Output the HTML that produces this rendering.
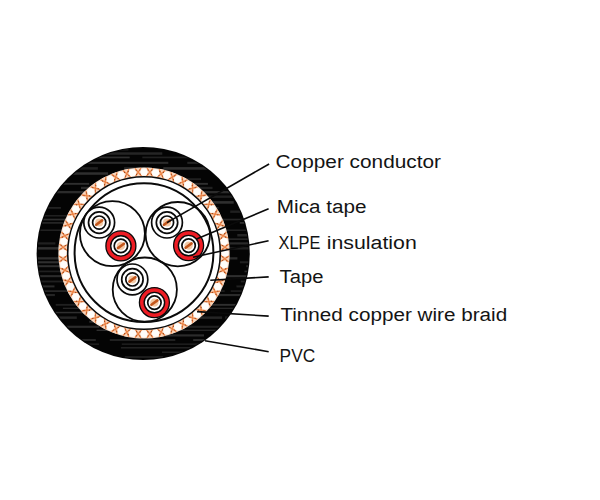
<!DOCTYPE html><html><head><meta charset="utf-8"><style>html,body{margin:0;padding:0;background:#fff;overflow:hidden}body{width:600px;height:500px;font-family:"Liberation Sans",sans-serif}svg{display:block}</style></head><body><svg width="600" height="500" viewBox="0 0 600 500">
<rect width="600" height="500" fill="#fff"/>
<circle cx="143.2" cy="253.5" r="106.6" fill="#050505"/>
<clipPath id="jk"><circle cx="143.2" cy="253.5" r="105.5"/></clipPath>
<g clip-path="url(#jk)" opacity="0.9"><rect x="20.0" y="149.0" width="60.4" height="1.5" fill="#242424"/><rect x="99.1" y="149.0" width="29.3" height="1.5" fill="#242424"/><rect x="190.5" y="149.0" width="79.4" height="1.5" fill="#303030"/><rect x="20.0" y="152.3" width="50.3" height="2.5" fill="#2a2a2a"/><rect x="75.1" y="152.3" width="87.2" height="2.5" fill="#2a2a2a"/><rect x="187.1" y="152.3" width="42.5" height="2.5" fill="#242424"/><rect x="251.0" y="152.3" width="84.9" height="2.5" fill="#242424"/><rect x="20.0" y="156.6" width="27.3" height="1.7" fill="#353535"/><rect x="76.3" y="156.6" width="53.4" height="1.7" fill="#353535"/><rect x="142.3" y="156.6" width="79.2" height="1.7" fill="#242424"/><rect x="239.0" y="156.6" width="83.8" height="1.7" fill="#2a2a2a"/><rect x="84.5" y="161.8" width="83.8" height="2.1" fill="#303030"/><rect x="187.3" y="161.8" width="89.2" height="2.1" fill="#2a2a2a"/><rect x="63.1" y="167.1" width="34.8" height="2.6" fill="#242424"/><rect x="124.1" y="167.1" width="27.9" height="2.6" fill="#2a2a2a"/><rect x="163.3" y="167.1" width="63.1" height="2.6" fill="#353535"/><rect x="241.5" y="167.1" width="89.9" height="2.6" fill="#2a2a2a"/><rect x="20.0" y="172.3" width="88.1" height="2.5" fill="#353535"/><rect x="248.6" y="172.3" width="54.9" height="2.5" fill="#2a2a2a"/><rect x="140.4" y="178.2" width="60.6" height="1.9" fill="#242424"/><rect x="230.6" y="178.2" width="45.5" height="1.9" fill="#303030"/><rect x="20.0" y="182.9" width="69.2" height="1.9" fill="#353535"/><rect x="111.3" y="182.9" width="26.4" height="1.9" fill="#2a2a2a"/><rect x="166.6" y="182.9" width="41.3" height="1.9" fill="#353535"/><rect x="81.0" y="186.8" width="69.4" height="2.3" fill="#303030"/><rect x="170.0" y="186.8" width="42.5" height="2.3" fill="#242424"/><rect x="232.0" y="186.8" width="31.3" height="2.3" fill="#353535"/><rect x="20.0" y="191.0" width="87.4" height="2.3" fill="#303030"/><rect x="134.0" y="191.0" width="54.3" height="2.3" fill="#2a2a2a"/><rect x="189.3" y="191.0" width="87.2" height="2.3" fill="#303030"/><rect x="20.0" y="195.5" width="30.6" height="2.4" fill="#303030"/><rect x="135.8" y="195.5" width="66.2" height="2.4" fill="#242424"/><rect x="203.1" y="195.5" width="51.9" height="2.4" fill="#242424"/><rect x="165.6" y="201.1" width="68.1" height="2.6" fill="#353535"/><rect x="20.0" y="207.2" width="40.9" height="1.4" fill="#303030"/><rect x="87.8" y="207.2" width="83.5" height="1.4" fill="#2a2a2a"/><rect x="185.7" y="207.2" width="32.9" height="1.4" fill="#303030"/><rect x="238.4" y="207.2" width="59.1" height="1.4" fill="#2a2a2a"/><rect x="86.6" y="210.5" width="37.8" height="2.4" fill="#2a2a2a"/><rect x="230.2" y="210.5" width="78.5" height="2.4" fill="#242424"/><rect x="20.0" y="215.0" width="59.3" height="1.6" fill="#242424"/><rect x="190.5" y="215.0" width="28.0" height="1.6" fill="#242424"/><rect x="247.7" y="215.0" width="80.5" height="1.6" fill="#242424"/><rect x="20.0" y="218.7" width="67.0" height="1.7" fill="#353535"/><rect x="95.0" y="218.7" width="89.2" height="1.7" fill="#303030"/><rect x="200.9" y="218.7" width="71.5" height="1.7" fill="#2a2a2a"/><rect x="20.0" y="222.0" width="67.3" height="1.8" fill="#2a2a2a"/><rect x="106.0" y="222.0" width="53.1" height="1.8" fill="#242424"/><rect x="239.8" y="222.0" width="26.2" height="1.8" fill="#353535"/><rect x="173.8" y="225.5" width="42.0" height="1.8" fill="#2a2a2a"/><rect x="20.0" y="229.5" width="45.7" height="1.4" fill="#2a2a2a"/><rect x="79.9" y="229.5" width="40.3" height="1.4" fill="#2a2a2a"/><rect x="137.2" y="229.5" width="67.8" height="1.4" fill="#2a2a2a"/><rect x="215.3" y="229.5" width="80.4" height="1.4" fill="#2a2a2a"/><rect x="83.7" y="234.0" width="74.9" height="2.5" fill="#303030"/><rect x="237.3" y="234.0" width="46.1" height="2.5" fill="#2a2a2a"/><rect x="96.9" y="238.4" width="48.9" height="1.5" fill="#353535"/><rect x="162.4" y="238.4" width="87.8" height="1.5" fill="#303030"/><rect x="20.0" y="242.3" width="35.4" height="2.2" fill="#242424"/><rect x="116.1" y="242.3" width="57.4" height="2.2" fill="#242424"/><rect x="191.0" y="242.3" width="80.8" height="2.2" fill="#303030"/><rect x="20.0" y="247.1" width="80.3" height="2.5" fill="#353535"/><rect x="120.5" y="247.1" width="80.6" height="2.5" fill="#353535"/><rect x="227.8" y="247.1" width="45.0" height="2.5" fill="#242424"/><rect x="20.0" y="257.2" width="82.3" height="2.3" fill="#303030"/><rect x="198.3" y="257.2" width="39.1" height="2.3" fill="#303030"/><rect x="20.0" y="261.2" width="68.9" height="2.1" fill="#353535"/><rect x="94.0" y="261.2" width="27.9" height="2.1" fill="#2a2a2a"/><rect x="143.8" y="261.2" width="30.6" height="2.1" fill="#353535"/><rect x="239.9" y="261.2" width="26.9" height="2.1" fill="#242424"/><rect x="20.0" y="265.2" width="87.1" height="2.0" fill="#353535"/><rect x="110.7" y="265.2" width="42.9" height="2.0" fill="#2a2a2a"/><rect x="166.7" y="265.2" width="59.3" height="2.0" fill="#353535"/><rect x="246.3" y="265.2" width="48.9" height="2.0" fill="#353535"/><rect x="20.0" y="270.6" width="61.8" height="1.7" fill="#242424"/><rect x="97.1" y="270.6" width="28.9" height="1.7" fill="#303030"/><rect x="145.3" y="270.6" width="72.5" height="1.7" fill="#353535"/><rect x="244.5" y="270.6" width="67.6" height="1.7" fill="#303030"/><rect x="20.0" y="275.1" width="52.3" height="2.1" fill="#303030"/><rect x="86.0" y="275.1" width="45.3" height="2.1" fill="#2a2a2a"/><rect x="134.6" y="275.1" width="36.8" height="2.1" fill="#242424"/><rect x="182.1" y="275.1" width="42.3" height="2.1" fill="#303030"/><rect x="225.7" y="275.1" width="57.8" height="2.1" fill="#353535"/><rect x="20.0" y="280.6" width="77.6" height="1.8" fill="#242424"/><rect x="123.0" y="280.6" width="32.3" height="1.8" fill="#2a2a2a"/><rect x="240.8" y="280.6" width="70.4" height="1.8" fill="#242424"/><rect x="20.0" y="285.4" width="34.5" height="2.0" fill="#303030"/><rect x="70.9" y="285.4" width="36.1" height="2.0" fill="#353535"/><rect x="236.4" y="285.4" width="83.9" height="2.0" fill="#242424"/><rect x="20.0" y="290.3" width="80.9" height="1.6" fill="#303030"/><rect x="167.7" y="290.3" width="57.0" height="1.6" fill="#242424"/><rect x="230.7" y="290.3" width="75.8" height="1.6" fill="#242424"/><rect x="20.0" y="294.0" width="34.9" height="2.1" fill="#2a2a2a"/><rect x="73.6" y="294.0" width="28.3" height="2.1" fill="#303030"/><rect x="117.1" y="294.0" width="57.4" height="2.1" fill="#353535"/><rect x="184.2" y="294.0" width="81.6" height="2.1" fill="#303030"/><rect x="20.0" y="299.3" width="27.2" height="2.3" fill="#353535"/><rect x="77.1" y="299.3" width="38.3" height="2.3" fill="#303030"/><rect x="128.6" y="299.3" width="74.2" height="2.3" fill="#2a2a2a"/><rect x="55.7" y="303.9" width="56.8" height="1.9" fill="#242424"/><rect x="135.2" y="303.9" width="51.1" height="1.9" fill="#2a2a2a"/><rect x="207.9" y="303.9" width="48.9" height="1.9" fill="#353535"/><rect x="62.9" y="307.7" width="54.9" height="1.2" fill="#303030"/><rect x="118.5" y="307.7" width="63.0" height="1.2" fill="#2a2a2a"/><rect x="185.6" y="307.7" width="64.6" height="1.2" fill="#303030"/><rect x="252.0" y="307.7" width="26.5" height="1.2" fill="#242424"/><rect x="20.0" y="311.8" width="27.5" height="1.5" fill="#303030"/><rect x="54.8" y="311.8" width="50.3" height="1.5" fill="#353535"/><rect x="123.8" y="311.8" width="47.5" height="1.5" fill="#2a2a2a"/><rect x="20.0" y="316.4" width="56.8" height="2.5" fill="#2a2a2a"/><rect x="101.2" y="316.4" width="65.9" height="2.5" fill="#2a2a2a"/><rect x="168.8" y="316.4" width="53.3" height="2.5" fill="#2a2a2a"/><rect x="225.2" y="316.4" width="69.3" height="2.5" fill="#2a2a2a"/><rect x="89.3" y="320.8" width="47.1" height="1.9" fill="#353535"/><rect x="164.6" y="320.8" width="27.2" height="1.9" fill="#242424"/><rect x="241.9" y="320.8" width="50.3" height="1.9" fill="#242424"/><rect x="20.0" y="325.7" width="79.3" height="2.2" fill="#303030"/><rect x="110.2" y="325.7" width="52.0" height="2.2" fill="#242424"/><rect x="172.5" y="325.7" width="78.4" height="2.2" fill="#242424"/><rect x="96.6" y="329.6" width="70.0" height="1.4" fill="#353535"/><rect x="173.7" y="329.6" width="79.8" height="1.4" fill="#2a2a2a"/><rect x="20.0" y="334.3" width="46.7" height="2.2" fill="#2a2a2a"/><rect x="158.8" y="334.3" width="45.2" height="2.2" fill="#303030"/><rect x="211.3" y="334.3" width="28.2" height="2.2" fill="#303030"/><rect x="257.0" y="334.3" width="25.8" height="2.2" fill="#303030"/><rect x="20.0" y="339.1" width="75.8" height="1.8" fill="#303030"/><rect x="109.8" y="339.1" width="65.5" height="1.8" fill="#2a2a2a"/><rect x="193.2" y="339.1" width="80.8" height="1.8" fill="#353535"/><rect x="20.0" y="343.4" width="78.9" height="1.5" fill="#242424"/><rect x="121.8" y="343.4" width="81.7" height="1.5" fill="#242424"/><rect x="20.0" y="347.1" width="25.5" height="1.4" fill="#2a2a2a"/><rect x="120.9" y="347.1" width="69.6" height="1.4" fill="#2a2a2a"/><rect x="208.7" y="347.1" width="38.9" height="1.4" fill="#2a2a2a"/><rect x="257.7" y="347.1" width="53.0" height="1.4" fill="#303030"/><rect x="162.0" y="351.5" width="48.9" height="1.5" fill="#242424"/><rect x="225.4" y="351.5" width="75.3" height="1.5" fill="#2a2a2a"/><rect x="60.1" y="356.3" width="58.8" height="1.5" fill="#2a2a2a"/><rect x="124.7" y="356.3" width="38.5" height="1.5" fill="#2a2a2a"/><rect x="255.3" y="356.3" width="31.7" height="1.5" fill="#242424"/><rect x="20.0" y="359.7" width="77.6" height="1.9" fill="#242424"/><rect x="127.0" y="359.7" width="81.9" height="1.9" fill="#303030"/><rect x="221.9" y="359.7" width="86.1" height="1.9" fill="#303030"/></g>
<circle cx="144.0" cy="253.0" r="85.6" fill="#fbe6d6"/>
<g transform="translate(149.78 172.21) rotate(-85.9)"><rect x="-4.4" y="-2.6" width="8.8" height="5.2" fill="#f8d5bc"/><path d="M-4 -3L4 3M-4 3L4 -3" stroke="#ee8445" stroke-width="1.3" fill="none"/><path d="M-2 -1.9h0M2 -1.9h0M-2 1.9h0M2 1.9h0" stroke="#9a4a22" stroke-width="1.3" stroke-linecap="round"/></g><g transform="translate(161.22 173.85) rotate(-77.7)"><rect x="-4.4" y="-2.6" width="8.8" height="5.2" fill="#f8d5bc"/><path d="M-4 -3L4 3M-4 3L4 -3" stroke="#ee8445" stroke-width="1.3" fill="none"/><path d="M-2 -1.9h0M2 -1.9h0M-2 1.9h0M2 1.9h0" stroke="#9a4a22" stroke-width="1.3" stroke-linecap="round"/></g><g transform="translate(172.31 177.11) rotate(-69.5)"><rect x="-4.4" y="-2.6" width="8.8" height="5.2" fill="#f8d5bc"/><path d="M-4 -3L4 3M-4 3L4 -3" stroke="#ee8445" stroke-width="1.3" fill="none"/><path d="M-2 -1.9h0M2 -1.9h0M-2 1.9h0M2 1.9h0" stroke="#9a4a22" stroke-width="1.3" stroke-linecap="round"/></g><g transform="translate(182.82 181.91) rotate(-61.4)"><rect x="-4.4" y="-2.6" width="8.8" height="5.2" fill="#f8d5bc"/><path d="M-4 -3L4 3M-4 3L4 -3" stroke="#ee8445" stroke-width="1.3" fill="none"/><path d="M-2 -1.9h0M2 -1.9h0M-2 1.9h0M2 1.9h0" stroke="#9a4a22" stroke-width="1.3" stroke-linecap="round"/></g><g transform="translate(192.54 188.16) rotate(-53.2)"><rect x="-4.4" y="-2.6" width="8.8" height="5.2" fill="#f8d5bc"/><path d="M-4 -3L4 3M-4 3L4 -3" stroke="#ee8445" stroke-width="1.3" fill="none"/><path d="M-2 -1.9h0M2 -1.9h0M-2 1.9h0M2 1.9h0" stroke="#9a4a22" stroke-width="1.3" stroke-linecap="round"/></g><g transform="translate(201.28 195.72) rotate(-45.0)"><rect x="-4.4" y="-2.6" width="8.8" height="5.2" fill="#f8d5bc"/><path d="M-4 -3L4 3M-4 3L4 -3" stroke="#ee8445" stroke-width="1.3" fill="none"/><path d="M-2 -1.9h0M2 -1.9h0M-2 1.9h0M2 1.9h0" stroke="#9a4a22" stroke-width="1.3" stroke-linecap="round"/></g><g transform="translate(208.84 204.46) rotate(-36.8)"><rect x="-4.4" y="-2.6" width="8.8" height="5.2" fill="#f8d5bc"/><path d="M-4 -3L4 3M-4 3L4 -3" stroke="#ee8445" stroke-width="1.3" fill="none"/><path d="M-2 -1.9h0M2 -1.9h0M-2 1.9h0M2 1.9h0" stroke="#9a4a22" stroke-width="1.3" stroke-linecap="round"/></g><g transform="translate(215.09 214.18) rotate(-28.6)"><rect x="-4.4" y="-2.6" width="8.8" height="5.2" fill="#f8d5bc"/><path d="M-4 -3L4 3M-4 3L4 -3" stroke="#ee8445" stroke-width="1.3" fill="none"/><path d="M-2 -1.9h0M2 -1.9h0M-2 1.9h0M2 1.9h0" stroke="#9a4a22" stroke-width="1.3" stroke-linecap="round"/></g><g transform="translate(219.89 224.69) rotate(-20.5)"><rect x="-4.4" y="-2.6" width="8.8" height="5.2" fill="#f8d5bc"/><path d="M-4 -3L4 3M-4 3L4 -3" stroke="#ee8445" stroke-width="1.3" fill="none"/><path d="M-2 -1.9h0M2 -1.9h0M-2 1.9h0M2 1.9h0" stroke="#9a4a22" stroke-width="1.3" stroke-linecap="round"/></g><g transform="translate(223.15 235.78) rotate(-12.3)"><rect x="-4.4" y="-2.6" width="8.8" height="5.2" fill="#f8d5bc"/><path d="M-4 -3L4 3M-4 3L4 -3" stroke="#ee8445" stroke-width="1.3" fill="none"/><path d="M-2 -1.9h0M2 -1.9h0M-2 1.9h0M2 1.9h0" stroke="#9a4a22" stroke-width="1.3" stroke-linecap="round"/></g><g transform="translate(224.79 247.22) rotate(-4.1)"><rect x="-4.4" y="-2.6" width="8.8" height="5.2" fill="#f8d5bc"/><path d="M-4 -3L4 3M-4 3L4 -3" stroke="#ee8445" stroke-width="1.3" fill="none"/><path d="M-2 -1.9h0M2 -1.9h0M-2 1.9h0M2 1.9h0" stroke="#9a4a22" stroke-width="1.3" stroke-linecap="round"/></g><g transform="translate(224.79 258.78) rotate(4.1)"><rect x="-4.4" y="-2.6" width="8.8" height="5.2" fill="#f8d5bc"/><path d="M-4 -3L4 3M-4 3L4 -3" stroke="#ee8445" stroke-width="1.3" fill="none"/><path d="M-2 -1.9h0M2 -1.9h0M-2 1.9h0M2 1.9h0" stroke="#9a4a22" stroke-width="1.3" stroke-linecap="round"/></g><g transform="translate(223.15 270.22) rotate(12.3)"><rect x="-4.4" y="-2.6" width="8.8" height="5.2" fill="#f8d5bc"/><path d="M-4 -3L4 3M-4 3L4 -3" stroke="#ee8445" stroke-width="1.3" fill="none"/><path d="M-2 -1.9h0M2 -1.9h0M-2 1.9h0M2 1.9h0" stroke="#9a4a22" stroke-width="1.3" stroke-linecap="round"/></g><g transform="translate(219.89 281.31) rotate(20.5)"><rect x="-4.4" y="-2.6" width="8.8" height="5.2" fill="#f8d5bc"/><path d="M-4 -3L4 3M-4 3L4 -3" stroke="#ee8445" stroke-width="1.3" fill="none"/><path d="M-2 -1.9h0M2 -1.9h0M-2 1.9h0M2 1.9h0" stroke="#9a4a22" stroke-width="1.3" stroke-linecap="round"/></g><g transform="translate(215.09 291.82) rotate(28.6)"><rect x="-4.4" y="-2.6" width="8.8" height="5.2" fill="#f8d5bc"/><path d="M-4 -3L4 3M-4 3L4 -3" stroke="#ee8445" stroke-width="1.3" fill="none"/><path d="M-2 -1.9h0M2 -1.9h0M-2 1.9h0M2 1.9h0" stroke="#9a4a22" stroke-width="1.3" stroke-linecap="round"/></g><g transform="translate(208.84 301.54) rotate(36.8)"><rect x="-4.4" y="-2.6" width="8.8" height="5.2" fill="#f8d5bc"/><path d="M-4 -3L4 3M-4 3L4 -3" stroke="#ee8445" stroke-width="1.3" fill="none"/><path d="M-2 -1.9h0M2 -1.9h0M-2 1.9h0M2 1.9h0" stroke="#9a4a22" stroke-width="1.3" stroke-linecap="round"/></g><g transform="translate(201.28 310.28) rotate(45.0)"><rect x="-4.4" y="-2.6" width="8.8" height="5.2" fill="#f8d5bc"/><path d="M-4 -3L4 3M-4 3L4 -3" stroke="#ee8445" stroke-width="1.3" fill="none"/><path d="M-2 -1.9h0M2 -1.9h0M-2 1.9h0M2 1.9h0" stroke="#9a4a22" stroke-width="1.3" stroke-linecap="round"/></g><g transform="translate(192.54 317.84) rotate(53.2)"><rect x="-4.4" y="-2.6" width="8.8" height="5.2" fill="#f8d5bc"/><path d="M-4 -3L4 3M-4 3L4 -3" stroke="#ee8445" stroke-width="1.3" fill="none"/><path d="M-2 -1.9h0M2 -1.9h0M-2 1.9h0M2 1.9h0" stroke="#9a4a22" stroke-width="1.3" stroke-linecap="round"/></g><g transform="translate(182.82 324.09) rotate(61.4)"><rect x="-4.4" y="-2.6" width="8.8" height="5.2" fill="#f8d5bc"/><path d="M-4 -3L4 3M-4 3L4 -3" stroke="#ee8445" stroke-width="1.3" fill="none"/><path d="M-2 -1.9h0M2 -1.9h0M-2 1.9h0M2 1.9h0" stroke="#9a4a22" stroke-width="1.3" stroke-linecap="round"/></g><g transform="translate(172.31 328.89) rotate(69.5)"><rect x="-4.4" y="-2.6" width="8.8" height="5.2" fill="#f8d5bc"/><path d="M-4 -3L4 3M-4 3L4 -3" stroke="#ee8445" stroke-width="1.3" fill="none"/><path d="M-2 -1.9h0M2 -1.9h0M-2 1.9h0M2 1.9h0" stroke="#9a4a22" stroke-width="1.3" stroke-linecap="round"/></g><g transform="translate(161.22 332.15) rotate(77.7)"><rect x="-4.4" y="-2.6" width="8.8" height="5.2" fill="#f8d5bc"/><path d="M-4 -3L4 3M-4 3L4 -3" stroke="#ee8445" stroke-width="1.3" fill="none"/><path d="M-2 -1.9h0M2 -1.9h0M-2 1.9h0M2 1.9h0" stroke="#9a4a22" stroke-width="1.3" stroke-linecap="round"/></g><g transform="translate(149.78 333.79) rotate(85.9)"><rect x="-4.4" y="-2.6" width="8.8" height="5.2" fill="#f8d5bc"/><path d="M-4 -3L4 3M-4 3L4 -3" stroke="#ee8445" stroke-width="1.3" fill="none"/><path d="M-2 -1.9h0M2 -1.9h0M-2 1.9h0M2 1.9h0" stroke="#9a4a22" stroke-width="1.3" stroke-linecap="round"/></g><g transform="translate(138.22 333.79) rotate(94.1)"><rect x="-4.4" y="-2.6" width="8.8" height="5.2" fill="#f8d5bc"/><path d="M-4 -3L4 3M-4 3L4 -3" stroke="#ee8445" stroke-width="1.3" fill="none"/><path d="M-2 -1.9h0M2 -1.9h0M-2 1.9h0M2 1.9h0" stroke="#9a4a22" stroke-width="1.3" stroke-linecap="round"/></g><g transform="translate(126.78 332.15) rotate(102.3)"><rect x="-4.4" y="-2.6" width="8.8" height="5.2" fill="#f8d5bc"/><path d="M-4 -3L4 3M-4 3L4 -3" stroke="#ee8445" stroke-width="1.3" fill="none"/><path d="M-2 -1.9h0M2 -1.9h0M-2 1.9h0M2 1.9h0" stroke="#9a4a22" stroke-width="1.3" stroke-linecap="round"/></g><g transform="translate(115.69 328.89) rotate(110.5)"><rect x="-4.4" y="-2.6" width="8.8" height="5.2" fill="#f8d5bc"/><path d="M-4 -3L4 3M-4 3L4 -3" stroke="#ee8445" stroke-width="1.3" fill="none"/><path d="M-2 -1.9h0M2 -1.9h0M-2 1.9h0M2 1.9h0" stroke="#9a4a22" stroke-width="1.3" stroke-linecap="round"/></g><g transform="translate(105.18 324.09) rotate(118.6)"><rect x="-4.4" y="-2.6" width="8.8" height="5.2" fill="#f8d5bc"/><path d="M-4 -3L4 3M-4 3L4 -3" stroke="#ee8445" stroke-width="1.3" fill="none"/><path d="M-2 -1.9h0M2 -1.9h0M-2 1.9h0M2 1.9h0" stroke="#9a4a22" stroke-width="1.3" stroke-linecap="round"/></g><g transform="translate(95.46 317.84) rotate(126.8)"><rect x="-4.4" y="-2.6" width="8.8" height="5.2" fill="#f8d5bc"/><path d="M-4 -3L4 3M-4 3L4 -3" stroke="#ee8445" stroke-width="1.3" fill="none"/><path d="M-2 -1.9h0M2 -1.9h0M-2 1.9h0M2 1.9h0" stroke="#9a4a22" stroke-width="1.3" stroke-linecap="round"/></g><g transform="translate(86.72 310.28) rotate(135.0)"><rect x="-4.4" y="-2.6" width="8.8" height="5.2" fill="#f8d5bc"/><path d="M-4 -3L4 3M-4 3L4 -3" stroke="#ee8445" stroke-width="1.3" fill="none"/><path d="M-2 -1.9h0M2 -1.9h0M-2 1.9h0M2 1.9h0" stroke="#9a4a22" stroke-width="1.3" stroke-linecap="round"/></g><g transform="translate(79.16 301.54) rotate(143.2)"><rect x="-4.4" y="-2.6" width="8.8" height="5.2" fill="#f8d5bc"/><path d="M-4 -3L4 3M-4 3L4 -3" stroke="#ee8445" stroke-width="1.3" fill="none"/><path d="M-2 -1.9h0M2 -1.9h0M-2 1.9h0M2 1.9h0" stroke="#9a4a22" stroke-width="1.3" stroke-linecap="round"/></g><g transform="translate(72.91 291.82) rotate(151.4)"><rect x="-4.4" y="-2.6" width="8.8" height="5.2" fill="#f8d5bc"/><path d="M-4 -3L4 3M-4 3L4 -3" stroke="#ee8445" stroke-width="1.3" fill="none"/><path d="M-2 -1.9h0M2 -1.9h0M-2 1.9h0M2 1.9h0" stroke="#9a4a22" stroke-width="1.3" stroke-linecap="round"/></g><g transform="translate(68.11 281.31) rotate(159.5)"><rect x="-4.4" y="-2.6" width="8.8" height="5.2" fill="#f8d5bc"/><path d="M-4 -3L4 3M-4 3L4 -3" stroke="#ee8445" stroke-width="1.3" fill="none"/><path d="M-2 -1.9h0M2 -1.9h0M-2 1.9h0M2 1.9h0" stroke="#9a4a22" stroke-width="1.3" stroke-linecap="round"/></g><g transform="translate(64.85 270.22) rotate(167.7)"><rect x="-4.4" y="-2.6" width="8.8" height="5.2" fill="#f8d5bc"/><path d="M-4 -3L4 3M-4 3L4 -3" stroke="#ee8445" stroke-width="1.3" fill="none"/><path d="M-2 -1.9h0M2 -1.9h0M-2 1.9h0M2 1.9h0" stroke="#9a4a22" stroke-width="1.3" stroke-linecap="round"/></g><g transform="translate(63.21 258.78) rotate(175.9)"><rect x="-4.4" y="-2.6" width="8.8" height="5.2" fill="#f8d5bc"/><path d="M-4 -3L4 3M-4 3L4 -3" stroke="#ee8445" stroke-width="1.3" fill="none"/><path d="M-2 -1.9h0M2 -1.9h0M-2 1.9h0M2 1.9h0" stroke="#9a4a22" stroke-width="1.3" stroke-linecap="round"/></g><g transform="translate(63.21 247.22) rotate(184.1)"><rect x="-4.4" y="-2.6" width="8.8" height="5.2" fill="#f8d5bc"/><path d="M-4 -3L4 3M-4 3L4 -3" stroke="#ee8445" stroke-width="1.3" fill="none"/><path d="M-2 -1.9h0M2 -1.9h0M-2 1.9h0M2 1.9h0" stroke="#9a4a22" stroke-width="1.3" stroke-linecap="round"/></g><g transform="translate(64.85 235.78) rotate(192.3)"><rect x="-4.4" y="-2.6" width="8.8" height="5.2" fill="#f8d5bc"/><path d="M-4 -3L4 3M-4 3L4 -3" stroke="#ee8445" stroke-width="1.3" fill="none"/><path d="M-2 -1.9h0M2 -1.9h0M-2 1.9h0M2 1.9h0" stroke="#9a4a22" stroke-width="1.3" stroke-linecap="round"/></g><g transform="translate(68.11 224.69) rotate(200.5)"><rect x="-4.4" y="-2.6" width="8.8" height="5.2" fill="#f8d5bc"/><path d="M-4 -3L4 3M-4 3L4 -3" stroke="#ee8445" stroke-width="1.3" fill="none"/><path d="M-2 -1.9h0M2 -1.9h0M-2 1.9h0M2 1.9h0" stroke="#9a4a22" stroke-width="1.3" stroke-linecap="round"/></g><g transform="translate(72.91 214.18) rotate(208.6)"><rect x="-4.4" y="-2.6" width="8.8" height="5.2" fill="#f8d5bc"/><path d="M-4 -3L4 3M-4 3L4 -3" stroke="#ee8445" stroke-width="1.3" fill="none"/><path d="M-2 -1.9h0M2 -1.9h0M-2 1.9h0M2 1.9h0" stroke="#9a4a22" stroke-width="1.3" stroke-linecap="round"/></g><g transform="translate(79.16 204.46) rotate(216.8)"><rect x="-4.4" y="-2.6" width="8.8" height="5.2" fill="#f8d5bc"/><path d="M-4 -3L4 3M-4 3L4 -3" stroke="#ee8445" stroke-width="1.3" fill="none"/><path d="M-2 -1.9h0M2 -1.9h0M-2 1.9h0M2 1.9h0" stroke="#9a4a22" stroke-width="1.3" stroke-linecap="round"/></g><g transform="translate(86.72 195.72) rotate(225.0)"><rect x="-4.4" y="-2.6" width="8.8" height="5.2" fill="#f8d5bc"/><path d="M-4 -3L4 3M-4 3L4 -3" stroke="#ee8445" stroke-width="1.3" fill="none"/><path d="M-2 -1.9h0M2 -1.9h0M-2 1.9h0M2 1.9h0" stroke="#9a4a22" stroke-width="1.3" stroke-linecap="round"/></g><g transform="translate(95.46 188.16) rotate(233.2)"><rect x="-4.4" y="-2.6" width="8.8" height="5.2" fill="#f8d5bc"/><path d="M-4 -3L4 3M-4 3L4 -3" stroke="#ee8445" stroke-width="1.3" fill="none"/><path d="M-2 -1.9h0M2 -1.9h0M-2 1.9h0M2 1.9h0" stroke="#9a4a22" stroke-width="1.3" stroke-linecap="round"/></g><g transform="translate(105.18 181.91) rotate(241.4)"><rect x="-4.4" y="-2.6" width="8.8" height="5.2" fill="#f8d5bc"/><path d="M-4 -3L4 3M-4 3L4 -3" stroke="#ee8445" stroke-width="1.3" fill="none"/><path d="M-2 -1.9h0M2 -1.9h0M-2 1.9h0M2 1.9h0" stroke="#9a4a22" stroke-width="1.3" stroke-linecap="round"/></g><g transform="translate(115.69 177.11) rotate(249.5)"><rect x="-4.4" y="-2.6" width="8.8" height="5.2" fill="#f8d5bc"/><path d="M-4 -3L4 3M-4 3L4 -3" stroke="#ee8445" stroke-width="1.3" fill="none"/><path d="M-2 -1.9h0M2 -1.9h0M-2 1.9h0M2 1.9h0" stroke="#9a4a22" stroke-width="1.3" stroke-linecap="round"/></g><g transform="translate(126.78 173.85) rotate(257.7)"><rect x="-4.4" y="-2.6" width="8.8" height="5.2" fill="#f8d5bc"/><path d="M-4 -3L4 3M-4 3L4 -3" stroke="#ee8445" stroke-width="1.3" fill="none"/><path d="M-2 -1.9h0M2 -1.9h0M-2 1.9h0M2 1.9h0" stroke="#9a4a22" stroke-width="1.3" stroke-linecap="round"/></g><g transform="translate(138.22 172.21) rotate(265.9)"><rect x="-4.4" y="-2.6" width="8.8" height="5.2" fill="#f8d5bc"/><path d="M-4 -3L4 3M-4 3L4 -3" stroke="#ee8445" stroke-width="1.3" fill="none"/><path d="M-2 -1.9h0M2 -1.9h0M-2 1.9h0M2 1.9h0" stroke="#9a4a22" stroke-width="1.3" stroke-linecap="round"/></g><circle cx="144.00" cy="172.00" r="3.55" fill="#fffdfa"/><circle cx="155.53" cy="172.82" r="3.55" fill="#fffdfa"/><circle cx="166.82" cy="175.28" r="3.55" fill="#fffdfa"/><circle cx="177.65" cy="179.32" r="3.55" fill="#fffdfa"/><circle cx="187.79" cy="184.86" r="3.55" fill="#fffdfa"/><circle cx="197.04" cy="191.78" r="3.55" fill="#fffdfa"/><circle cx="205.22" cy="199.96" r="3.55" fill="#fffdfa"/><circle cx="212.14" cy="209.21" r="3.55" fill="#fffdfa"/><circle cx="217.68" cy="219.35" r="3.55" fill="#fffdfa"/><circle cx="221.72" cy="230.18" r="3.55" fill="#fffdfa"/><circle cx="224.18" cy="241.47" r="3.55" fill="#fffdfa"/><circle cx="225.00" cy="253.00" r="3.55" fill="#fffdfa"/><circle cx="224.18" cy="264.53" r="3.55" fill="#fffdfa"/><circle cx="221.72" cy="275.82" r="3.55" fill="#fffdfa"/><circle cx="217.68" cy="286.65" r="3.55" fill="#fffdfa"/><circle cx="212.14" cy="296.79" r="3.55" fill="#fffdfa"/><circle cx="205.22" cy="306.04" r="3.55" fill="#fffdfa"/><circle cx="197.04" cy="314.22" r="3.55" fill="#fffdfa"/><circle cx="187.79" cy="321.14" r="3.55" fill="#fffdfa"/><circle cx="177.65" cy="326.68" r="3.55" fill="#fffdfa"/><circle cx="166.82" cy="330.72" r="3.55" fill="#fffdfa"/><circle cx="155.53" cy="333.18" r="3.55" fill="#fffdfa"/><circle cx="144.00" cy="334.00" r="3.55" fill="#fffdfa"/><circle cx="132.47" cy="333.18" r="3.55" fill="#fffdfa"/><circle cx="121.18" cy="330.72" r="3.55" fill="#fffdfa"/><circle cx="110.35" cy="326.68" r="3.55" fill="#fffdfa"/><circle cx="100.21" cy="321.14" r="3.55" fill="#fffdfa"/><circle cx="90.96" cy="314.22" r="3.55" fill="#fffdfa"/><circle cx="82.78" cy="306.04" r="3.55" fill="#fffdfa"/><circle cx="75.86" cy="296.79" r="3.55" fill="#fffdfa"/><circle cx="70.32" cy="286.65" r="3.55" fill="#fffdfa"/><circle cx="66.28" cy="275.82" r="3.55" fill="#fffdfa"/><circle cx="63.82" cy="264.53" r="3.55" fill="#fffdfa"/><circle cx="63.00" cy="253.00" r="3.55" fill="#fffdfa"/><circle cx="63.82" cy="241.47" r="3.55" fill="#fffdfa"/><circle cx="66.28" cy="230.18" r="3.55" fill="#fffdfa"/><circle cx="70.32" cy="219.35" r="3.55" fill="#fffdfa"/><circle cx="75.86" cy="209.21" r="3.55" fill="#fffdfa"/><circle cx="82.78" cy="199.96" r="3.55" fill="#fffdfa"/><circle cx="90.96" cy="191.78" r="3.55" fill="#fffdfa"/><circle cx="100.21" cy="184.86" r="3.55" fill="#fffdfa"/><circle cx="110.35" cy="179.32" r="3.55" fill="#fffdfa"/><circle cx="121.18" cy="175.28" r="3.55" fill="#fffdfa"/><circle cx="132.47" cy="172.82" r="3.55" fill="#fffdfa"/>
<circle cx="144.0" cy="253.0" r="76.3" fill="#fff" stroke="#0a0a0a" stroke-width="1.6"/>
<circle cx="144.0" cy="252.7" r="69.4" fill="none" stroke="#0a0a0a" stroke-width="2.0"/>
<circle cx="112.4" cy="233.6" r="32.5" fill="none" stroke="#0a0a0a" stroke-width="1.8"/>
<circle cx="177.8" cy="234.2" r="32.2" fill="none" stroke="#0a0a0a" stroke-width="1.8"/>
<circle cx="144.8" cy="289.6" r="32.1" fill="none" stroke="#0a0a0a" stroke-width="1.8"/>
<circle cx="99.2" cy="222.6" r="15.4" fill="#fff" stroke="#0a0a0a" stroke-width="1.7"/>
<circle cx="99.2" cy="222.6" r="10.7" fill="#fff" stroke="#0a0a0a" stroke-width="1.7"/>
<circle cx="99.2" cy="222.6" r="6.6" fill="#fff" stroke="#0a0a0a" stroke-width="1.7"/>
<circle cx="99.2" cy="222.6" r="4.0" fill="#f2c9a6"/>
<path d="M96.2 224.79999999999998L102.2 220.4" stroke="#c4571c" stroke-width="2.6" stroke-linecap="round"/>
<circle cx="120.9" cy="245.9" r="15.0" fill="#ee1c24" stroke="#0a0a0a" stroke-width="1.3"/>
<circle cx="120.9" cy="245.9" r="10.2" fill="#fff" stroke="#0a0a0a" stroke-width="1.4"/>
<circle cx="120.9" cy="245.9" r="6.7" fill="#fff" stroke="#0a0a0a" stroke-width="1.7"/>
<circle cx="120.9" cy="245.9" r="4.2" fill="#f2c9a6"/>
<path d="M117.9 248.1L123.9 243.70000000000002" stroke="#c4571c" stroke-width="2.6" stroke-linecap="round"/>
<circle cx="167.0" cy="222.6" r="15.4" fill="#fff" stroke="#0a0a0a" stroke-width="1.7"/>
<circle cx="167.0" cy="222.6" r="10.7" fill="#fff" stroke="#0a0a0a" stroke-width="1.7"/>
<circle cx="167.0" cy="222.6" r="6.6" fill="#fff" stroke="#0a0a0a" stroke-width="1.7"/>
<circle cx="167.0" cy="222.6" r="4.0" fill="#f2c9a6"/>
<path d="M164.0 224.79999999999998L170.0 220.4" stroke="#c4571c" stroke-width="2.6" stroke-linecap="round"/>
<circle cx="188.6" cy="245.6" r="15.0" fill="#ee1c24" stroke="#0a0a0a" stroke-width="1.3"/>
<circle cx="188.6" cy="245.6" r="10.2" fill="#fff" stroke="#0a0a0a" stroke-width="1.4"/>
<circle cx="188.6" cy="245.6" r="6.7" fill="#fff" stroke="#0a0a0a" stroke-width="1.7"/>
<circle cx="188.6" cy="245.6" r="4.2" fill="#f2c9a6"/>
<path d="M185.6 247.79999999999998L191.6 243.4" stroke="#c4571c" stroke-width="2.6" stroke-linecap="round"/>
<circle cx="132.4" cy="279.4" r="15.4" fill="#fff" stroke="#0a0a0a" stroke-width="1.7"/>
<circle cx="132.4" cy="279.4" r="10.7" fill="#fff" stroke="#0a0a0a" stroke-width="1.7"/>
<circle cx="132.4" cy="279.4" r="6.6" fill="#fff" stroke="#0a0a0a" stroke-width="1.7"/>
<circle cx="132.4" cy="279.4" r="4.0" fill="#f2c9a6"/>
<path d="M129.4 281.59999999999997L135.4 277.2" stroke="#c4571c" stroke-width="2.6" stroke-linecap="round"/>
<circle cx="154.4" cy="302.6" r="15.0" fill="#ee1c24" stroke="#0a0a0a" stroke-width="1.3"/>
<circle cx="154.4" cy="302.6" r="10.2" fill="#fff" stroke="#0a0a0a" stroke-width="1.4"/>
<circle cx="154.4" cy="302.6" r="6.7" fill="#fff" stroke="#0a0a0a" stroke-width="1.7"/>
<circle cx="154.4" cy="302.6" r="4.2" fill="#f2c9a6"/>
<path d="M151.4 304.8L157.4 300.40000000000003" stroke="#c4571c" stroke-width="2.6" stroke-linecap="round"/>
<path d="M167.0 222.6L269.1 164.0" stroke="#0a0a0a" stroke-width="1.6" fill="none"/>
<path d="M196.0 239.2L268.6 208.8" stroke="#0a0a0a" stroke-width="1.6" fill="none"/>
<path d="M193.0 257.2L268.6 240.7" stroke="#0a0a0a" stroke-width="1.6" fill="none"/>
<path d="M210.3 280.3L268.7 276.9" stroke="#0a0a0a" stroke-width="1.6" fill="none"/>
<path d="M197.0 311.6L268.7 316.1" stroke="#0a0a0a" stroke-width="1.6" fill="none"/>
<path d="M205.0 340.8L268.7 351.7" stroke="#0a0a0a" stroke-width="1.6" fill="none"/>
<text x="275.6" y="168.1" textLength="165.4" lengthAdjust="spacingAndGlyphs" font-family="Liberation Sans, sans-serif" font-size="19.2" fill="#141414">Copper conductor</text>
<text x="276.8" y="213.1" textLength="89.7" lengthAdjust="spacingAndGlyphs" font-family="Liberation Sans, sans-serif" font-size="19.2" fill="#141414">Mica tape</text>
<text x="278.5" y="248.9" textLength="41.8" lengthAdjust="spacingAndGlyphs" font-family="Liberation Sans, sans-serif" font-size="19.2" fill="#141414">XLPE</text>
<text x="326.8" y="248.9" textLength="90.0" lengthAdjust="spacingAndGlyphs" font-family="Liberation Sans, sans-serif" font-size="19.2" fill="#141414">insulation</text>
<text x="279.6" y="283.0" textLength="43.8" lengthAdjust="spacingAndGlyphs" font-family="Liberation Sans, sans-serif" font-size="19.2" fill="#141414">Tape</text>
<text x="280.4" y="320.8" textLength="226.8" lengthAdjust="spacingAndGlyphs" font-family="Liberation Sans, sans-serif" font-size="19.2" fill="#141414">Tinned copper wire braid</text>
<text x="279.6" y="361.6" textLength="35.6" lengthAdjust="spacingAndGlyphs" font-family="Liberation Sans, sans-serif" font-size="19.2" fill="#141414">PVC</text>
</svg></body></html>
